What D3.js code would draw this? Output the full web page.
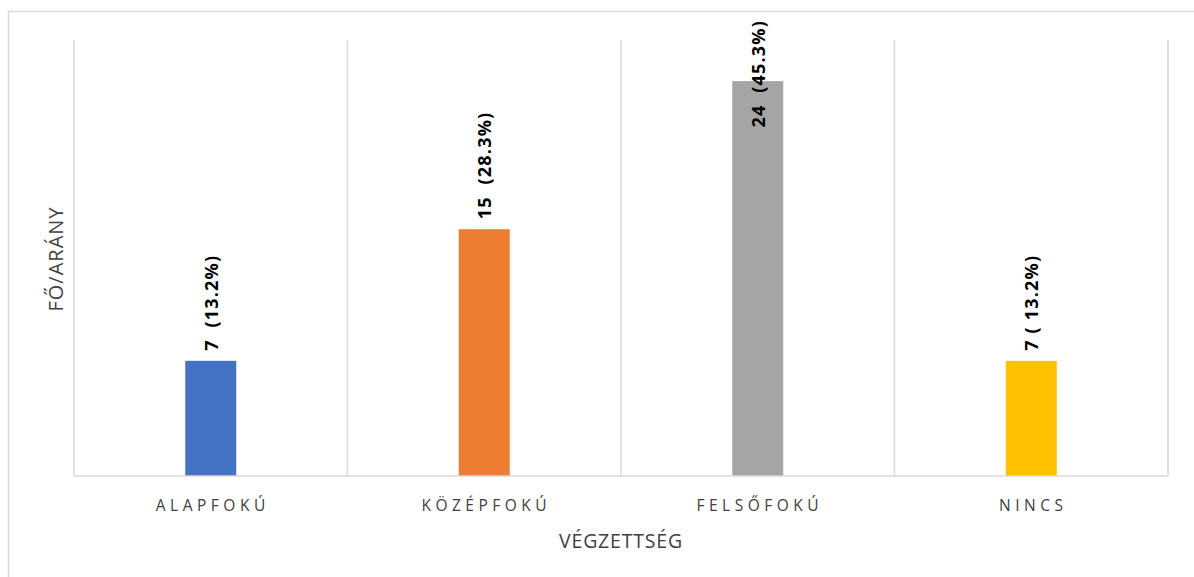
<!DOCTYPE html>
<html>
<head>
<meta charset="utf-8">
<script src="https://cdn.jsdelivr.net/npm/d3@7"></script>
<style>
  body { margin: 0; background: #fff; }
  svg { display: block; }
  text { font-family: "Open Sans", "Noto Sans", sans-serif; }
</style>
</head>
<body>
<svg id="chart" width="1194" height="577"></svg>
<script>
// chart data
var categories = ["ALAPFOKÚ", "KÖZÉPFOKÚ", "FELSŐFOKÚ", "NINCS"];
var values = [7, 15, 24, 7];
var labels = ["7  (13.2%)", "15  (28.3%)", "24  (45.3%)", "7 ( 13.2%)"];
var colors = ["#4472C4", "#ED7D31", "#A5A5A5", "#FFC000"];
var xTitle = "VÉGZETTSÉG";
var yTitle = "FŐ/ARÁNY";

var width = 1194, height = 577;
var plot = {left: 74, right: 1168, top: 40, bottom: 476};

var svg = d3.select("#chart");

// outer chart border (runs off the right and bottom)
svg.append("rect")
    .attr("x", 8.5).attr("y", 11.5)
    .attr("width", 1300).attr("height", 700)
    .attr("fill", "none")
    .attr("stroke", "#d9d9d9")
    .attr("stroke-width", 1.5);

var x = d3.scaleBand()
    .domain(categories)
    .range([plot.left, plot.right])
    .paddingInner(0)
    .paddingOuter(0);

var y = d3.scaleLinear()
    .domain([0, 26.5])
    .range([plot.bottom, plot.top]);

// vertical gridlines at category boundaries
var bounds = categories.map(function(c) { return x(c); }).concat([plot.right]);
svg.append("g").selectAll("line").data(bounds).enter()
    .append("line")
    .attr("x1", function(d) { return d; })
    .attr("x2", function(d) { return d; })
    .attr("y1", plot.top)
    .attr("y2", plot.bottom)
    .attr("stroke", "#d9d9d9")
    .attr("stroke-width", 1.5);

// bars
var barW = 51;
svg.append("g").selectAll("rect").data(values).enter()
    .append("rect")
    .attr("x", function(d, i) { return x(categories[i]) + x.bandwidth() / 2 - barW / 2; })
    .attr("y", function(d) { return y(d); })
    .attr("width", barW)
    .attr("height", function(d) { return y(0) - y(d); })
    .attr("fill", function(d, i) { return colors[i]; });

// x axis line
svg.append("line")
    .attr("x1", plot.left).attr("x2", plot.right)
    .attr("y1", plot.bottom).attr("y2", plot.bottom)
    .attr("stroke", "#d9d9d9")
    .attr("stroke-width", 1.5);

// data labels, rotated
var lbl = svg.append("g").selectAll("text").data(values).enter()
    .append("text")
    .attr("xml:space", "preserve")
    .style("white-space", "pre")
    .attr("font-size", 18)
    .attr("font-weight", "bold")
    .attr("letter-spacing", 1.2)
    .attr("fill", "#000")
    .attr("dominant-baseline", "central")
    .attr("text-anchor", "start")
    .text(function(d, i) { return labels[i]; });

lbl.each(function(d, i) {
    var len = this.getComputedTextLength();
    var cx = x(categories[i]) + x.bandwidth() / 2;
    var start = y(d) - 10;
    if (start - len < 20) start = 20 + len;
    d3.select(this).attr("transform", "translate(" + cx + "," + start + ") rotate(-90)");
});

// category labels
svg.append("g").selectAll("text").data(categories).enter()
    .append("text")
    .attr("x", function(d) { return x(d) + x.bandwidth() / 2 + 2; })
    .attr("y", 511)
    .attr("text-anchor", "middle")
    .attr("font-size", 15.5)
    .attr("letter-spacing", 4.5)
    .attr("fill", "#404040")
    .text(function(d) { return d; });

// axis titles
svg.append("text")
    .attr("x", (plot.left + plot.right) / 2)
    .attr("y", 548)
    .attr("text-anchor", "middle")
    .attr("font-size", 19.5)
    .attr("letter-spacing", 0.8)
    .attr("fill", "#404040")
    .text(xTitle);

svg.append("text")
    .attr("transform", "translate(63," + 259 + ") rotate(-90)")
    .attr("text-anchor", "middle")
    .attr("font-size", 20)
    .attr("letter-spacing", 1)
    .attr("fill", "#404040")
    .text(yTitle);
</script>
</body>
</html>
